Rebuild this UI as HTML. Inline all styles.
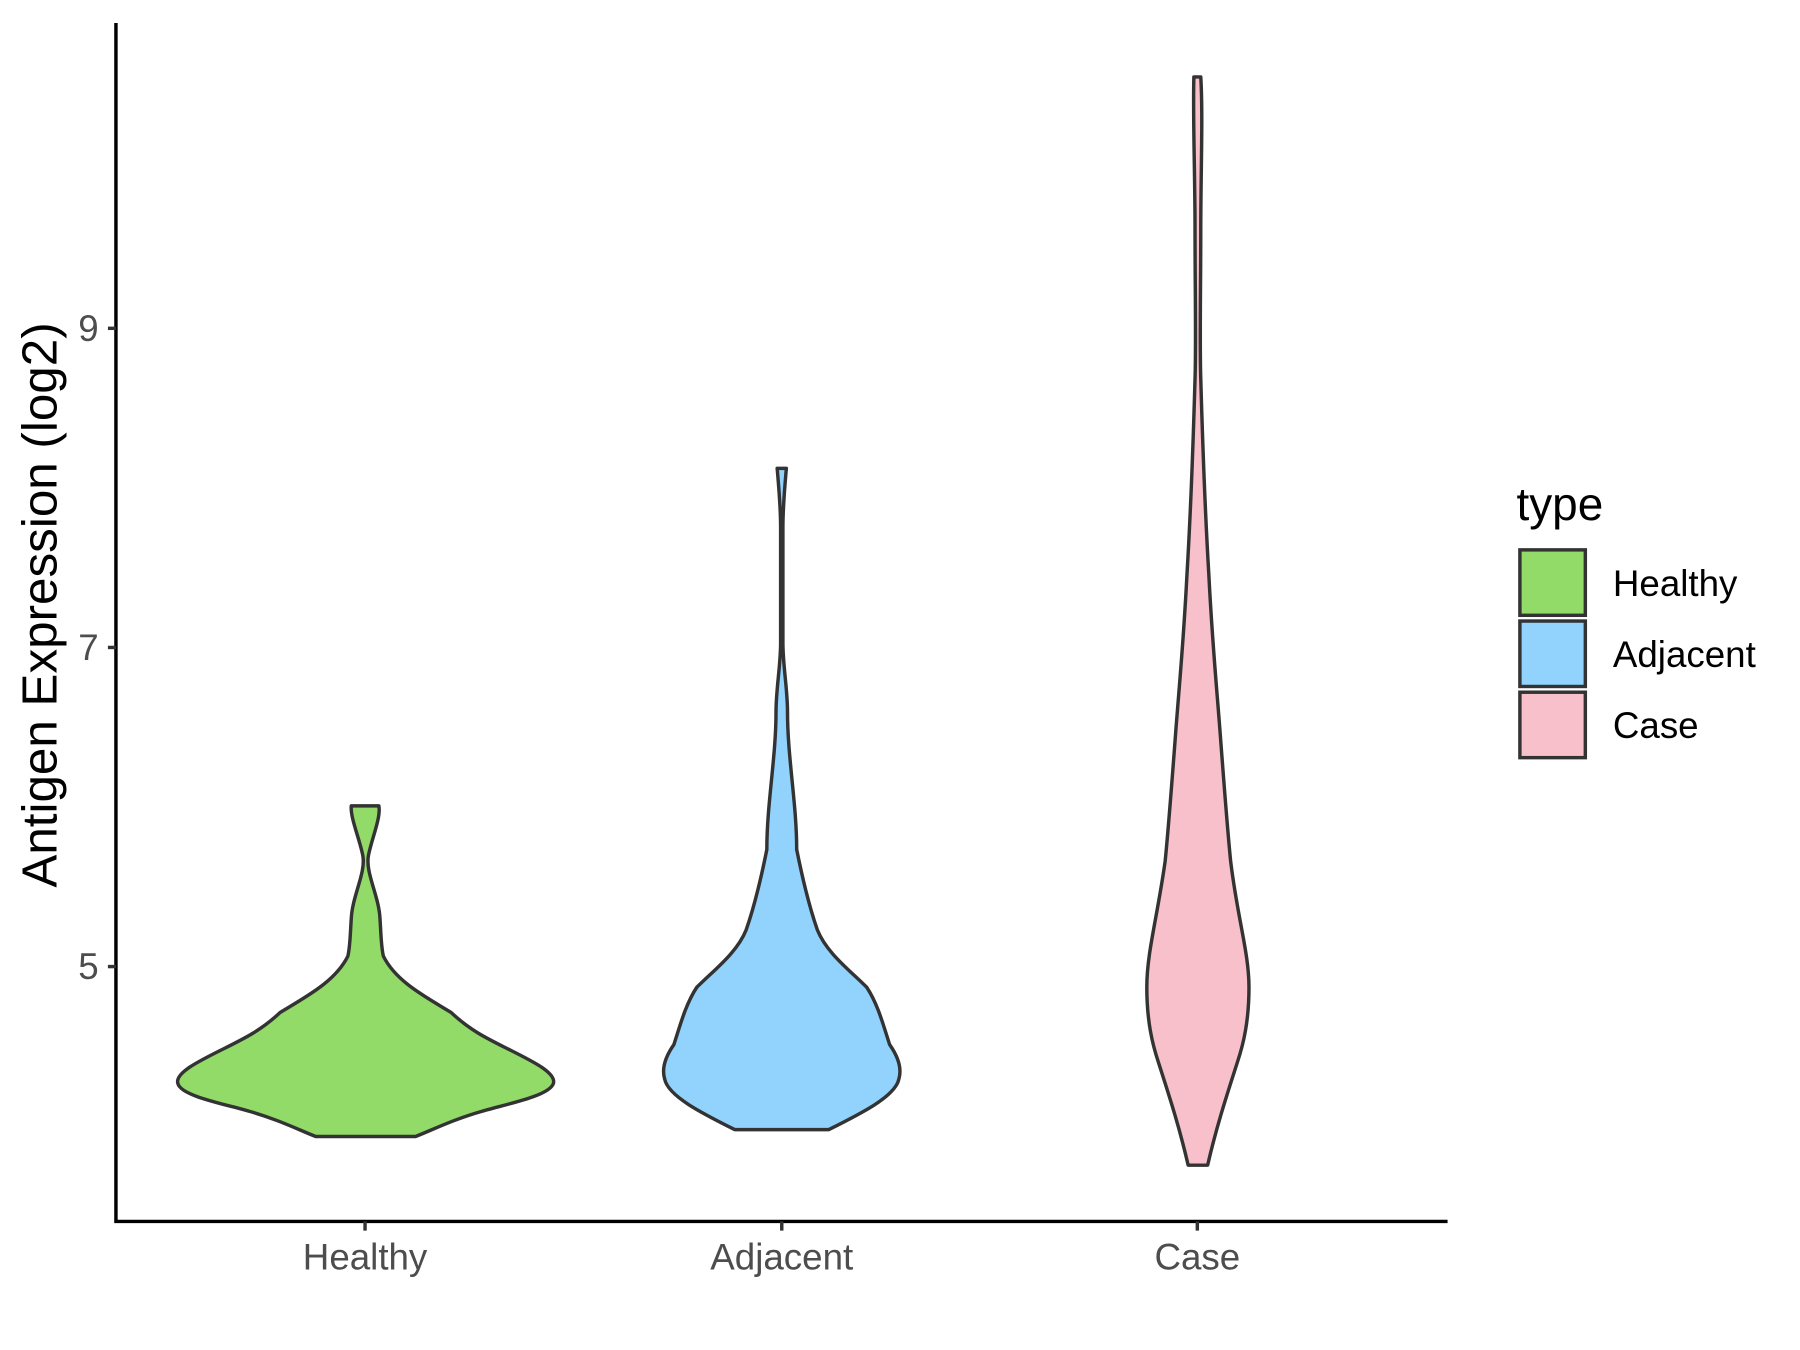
<!DOCTYPE html>
<html><head><meta charset="utf-8"><style>
html,body{margin:0;padding:0;background:#fff;}
svg{display:block;}
</style></head><body>
<svg width="1800" height="1350" viewBox="0 0 1568 1176" preserveAspectRatio="none" xmlns="http://www.w3.org/2000/svg" font-family="Liberation Sans, Arial, sans-serif">
<rect width="1568" height="1176" fill="#fff"/>
<g stroke="#333" stroke-width="3" stroke-linejoin="round">
<path fill="#93DB69" d="M306,702 L330,702 C332,712 324,730 321,745 C318,760 330,780 331,800 C332,815 332,825 334,833 C345,855 370,868 393,882 C410,898 425,905 445,915 C465,925 485,935 482,944 C478,955 440,962 420,968 C395,975 375,985 362,990 L275,990 C262,985 242,975 217,968 C197,962 158,955 155,944 C152,935 172,925 192,915 C212,905 227,898 244,882 C267,868 292,855 303,833 C305,825 305,815 306,800 C307,780 319,760 316,745 C313,730 305,712 306,702 Z"/>
<path fill="#92D3FE" d="M677,408 L685,408 C684,420 682,440 682,460 L682,560 C682,580 686,600 686,620 C686,640 688,660 690,680 C692,700 694,720 694,740 C698,760 705,790 712,810 C720,830 740,845 755,860 C765,875 770,895 775,910 C782,920 786,930 783,940 C780,955 750,970 722,984 L640,984 C612,970 582,955 579,940 C576,930 580,920 587,910 C592,895 597,875 607,860 C622,845 642,830 650,810 C657,790 664,760 668,740 C668,720 670,700 672,680 C674,660 676,640 676,620 C676,600 680,580 680,560 L680,460 C680,440 678,420 677,408 Z"/>
<path fill="#F7C0CB" d="M1040,67 L1046,67 C1048,100 1046,150 1046,200 C1046,250 1045,300 1046,330 C1048,400 1050,450 1053,500 C1056,560 1060,600 1063,640 C1066,680 1069,720 1072,750 C1078,800 1088,830 1088,860 C1088,890 1083,910 1078,925 C1070,950 1060,980 1052,1015 L1035,1015 C1027,980 1017,950 1009,925 C1004,910 999,890 999,860 C999,830 1008,800 1015,750 C1018,720 1021,680 1024,640 C1027,600 1031,560 1034,500 C1037,450 1039,400 1041,330 C1042,300 1041,250 1041,200 C1041,150 1039,100 1040,67 Z"/>
</g>
<g stroke="#000" stroke-width="3" fill="none">
<path d="M101,20 L101,1064 L1261,1064"/>
</g>
<g stroke="#333" stroke-width="3">
<line x1="94" y1="286" x2="101" y2="286"/>
<line x1="94" y1="564" x2="101" y2="564"/>
<line x1="94" y1="842" x2="101" y2="842"/>
<line x1="318" y1="1064" x2="318" y2="1072"/>
<line x1="681" y1="1064" x2="681" y2="1072"/>
<line x1="1043" y1="1064" x2="1043" y2="1072"/>
</g>
<g fill="#4d4d4d" font-size="32">
<text x="86" y="297" text-anchor="end">9</text>
<text x="86" y="575" text-anchor="end">7</text>
<text x="86" y="853" text-anchor="end">5</text>
<text x="318" y="1106" text-anchor="middle">Healthy</text>
<text x="681" y="1106" text-anchor="middle">Adjacent</text>
<text x="1043" y="1106" text-anchor="middle">Case</text>
</g>
<text transform="translate(49,527) rotate(-90)" text-anchor="middle" font-size="43" fill="#000">Antigen Expression (log2)</text>
<text x="1321" y="453" font-size="40" fill="#000">type</text>
<g stroke="#333" stroke-width="3">
<rect x="1324" y="479" width="57" height="57" fill="#93DB69"/>
<rect x="1324" y="541" width="57" height="57" fill="#92D3FE"/>
<rect x="1324" y="603" width="57" height="57" fill="#F7C0CB"/>
</g>
<g font-size="32" fill="#000">
<text x="1405" y="519">Healthy</text>
<text x="1405" y="581">Adjacent</text>
<text x="1405" y="643">Case</text>
</g>
</svg>
</body></html>
